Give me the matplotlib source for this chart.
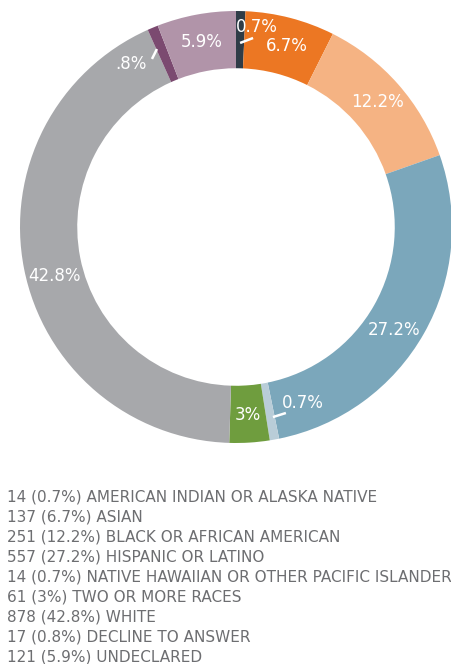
import matplotlib
matplotlib.use("Agg")
import matplotlib.pyplot as plt
import numpy as np

categories = ["AMERICAN INDIAN OR ALASKA NATIVE", "ASIAN", "BLACK OR AFRICAN AMERICAN",
              "HISPANIC OR LATINO", "NATIVE HAWAIIAN OR OTHER PACIFIC ISLANDER",
              "TWO OR MORE RACES", "WHITE", "DECLINE TO ANSWER", "UNDECLARED"]
counts = [14, 137, 251, 557, 14, 61, 878, 17, 121]
percents = [0.7, 6.7, 12.2, 27.2, 0.7, 3, 42.8, 0.8, 5.9]
colors = ["#2f3c47", "#ec7723", "#f5b383", "#7ba7bb", "#b9cdd8",
          "#6f9d3e", "#a7a8ab", "#7b4a70", "#b194a9"]

fig = plt.figure(figsize=(4.52, 6.64), dpi=100)
ax = fig.add_axes([20 / 452, 221 / 664, 432 / 452, 432 / 664])

inner = 0.735
wedges, _ = ax.pie(percents, colors=colors, startangle=90, counterclock=False,
                   radius=1, wedgeprops=dict(width=1 - inner, linewidth=0))
ax.set_xlim(-1, 1)
ax.set_ylim(-1, 1)
ax.set_aspect("equal")
ax.axis("off")

lab_r = 0.872
label_font = dict(color="white", fontsize=12, ha="center", va="center", family="DejaVu Sans")

# small slices get an offset label with a short white leader line
special = {
    0: ("0.7%", (0.097, 0.925), (0.019, 0.852), (0.079, 0.875)),
    4: ("0.7%", (0.310, -0.815), (0.171, -0.880), (0.231, -0.861)),
    7: (".8%", (-0.485, 0.755), (-0.389, 0.778), (-0.366, 0.824)),
}
# angular nudges (degrees, clockwise) for a couple of labels
nudge = {1: -1.2, 3: -3.5, 6: 4.0}

for i, w in enumerate(wedges):
    if i in special:
        txt, pos, p1, p2 = special[i]
        ax.plot([p1[0], p2[0]], [p1[1], p2[1]], color="white", lw=1.8, solid_capstyle="butt")
        ax.text(pos[0], pos[1], txt, **label_font)
        continue
    ang = np.deg2rad((w.theta1 + w.theta2) / 2 + nudge.get(i, 0))
    txt = f"{percents[i]:g}%"
    ax.text(lab_r * np.cos(ang), lab_r * np.sin(ang), txt, **label_font)

y0 = 497
for i, cat in enumerate(categories):
    fig.text(7 / 452, 1 - (y0 + 20 * i) / 664, f"{counts[i]} ({percents[i]:g}%) {cat}",
             color="#6d6e71", fontsize=11, ha="left", va="center", family="DejaVu Sans")

fig.savefig("out.png", dpi=100)
